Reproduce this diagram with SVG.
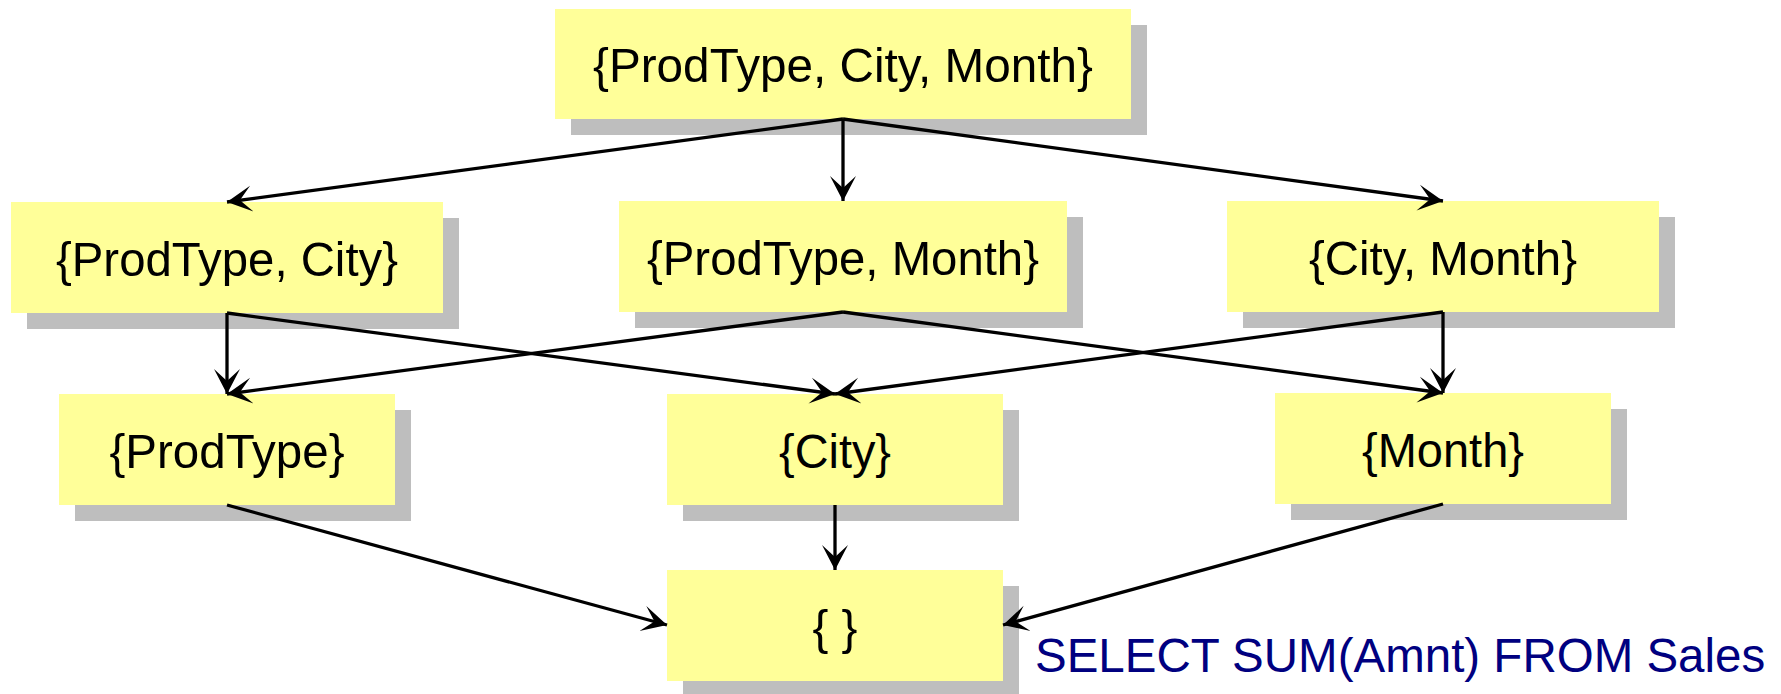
<svg xmlns="http://www.w3.org/2000/svg" width="1781" height="694" viewBox="0 0 1781 694">
<style>
.shadow{fill:#BEBEBE}
.box{fill:#FFFF99}
.lbl{font-family:"Liberation Sans",Arial,sans-serif;font-size:49px;fill:#000;text-anchor:middle}
.sql{font-family:"Liberation Sans",Arial,sans-serif;font-size:47.5px;fill:#000080}
.edge{stroke:#000;stroke-width:3.3;fill:none;marker-end:url(#arr)}
</style>
<defs>
<marker id="arr" markerUnits="userSpaceOnUse" markerWidth="26" markerHeight="28" viewBox="0 0 26 28" refX="25" refY="14" orient="auto">
<path d="M0,1 L25,14 L0,27 L12,14 Z" fill="#000"/>
</marker>
</defs>
<rect width="1781" height="694" fill="#fff"/>
<g id="n-all">
<rect class="shadow" x="571" y="25" width="576" height="110"/>
<rect class="box" x="555" y="9" width="576" height="110"/>
<text class="lbl" x="843" y="82" textLength="500" lengthAdjust="spacingAndGlyphs">{ProdType, City, Month}</text>
</g>
<g id="n-pt-city">
<rect class="shadow" x="27" y="218" width="432" height="111"/>
<rect class="box" x="11" y="202" width="432" height="111"/>
<text class="lbl" x="227" y="276" textLength="342" lengthAdjust="spacingAndGlyphs">{ProdType, City}</text>
</g>
<g id="n-pt-month">
<rect class="shadow" x="635" y="217" width="448" height="111"/>
<rect class="box" x="619" y="201" width="448" height="111"/>
<text class="lbl" x="843" y="275" textLength="392" lengthAdjust="spacingAndGlyphs">{ProdType, Month}</text>
</g>
<g id="n-city-month">
<rect class="shadow" x="1243" y="217" width="432" height="111"/>
<rect class="box" x="1227" y="201" width="432" height="111"/>
<text class="lbl" x="1443" y="275" textLength="268" lengthAdjust="spacingAndGlyphs">{City, Month}</text>
</g>
<g id="n-pt">
<rect class="shadow" x="75" y="410" width="336" height="111"/>
<rect class="box" x="59" y="394" width="336" height="111"/>
<text class="lbl" x="227" y="468" textLength="235" lengthAdjust="spacingAndGlyphs">{ProdType}</text>
</g>
<g id="n-city">
<rect class="shadow" x="683" y="410" width="336" height="111"/>
<rect class="box" x="667" y="394" width="336" height="111"/>
<text class="lbl" x="835" y="468" textLength="112" lengthAdjust="spacingAndGlyphs">{City}</text>
</g>
<g id="n-month">
<rect class="shadow" x="1291" y="409" width="336" height="111"/>
<rect class="box" x="1275" y="393" width="336" height="111"/>
<text class="lbl" x="1443" y="467" textLength="162" lengthAdjust="spacingAndGlyphs">{Month}</text>
</g>
<g id="n-empty">
<rect class="shadow" x="683" y="586" width="336" height="111"/>
<rect class="box" x="667" y="570" width="336" height="111"/>
<text class="lbl" x="835" y="644" textLength="45" lengthAdjust="spacingAndGlyphs">{ }</text>
</g>
<g id="connectors">
<line class="edge" x1="843" y1="119" x2="227" y2="202"/>
<line class="edge" x1="843" y1="119" x2="843" y2="201"/>
<line class="edge" x1="843" y1="119" x2="1443" y2="201"/>
<line class="edge" x1="227" y1="313" x2="227" y2="394"/>
<line class="edge" x1="227" y1="313" x2="835" y2="394"/>
<line class="edge" x1="843" y1="312" x2="227" y2="394"/>
<line class="edge" x1="843" y1="312" x2="1443" y2="393"/>
<line class="edge" x1="1443" y1="312" x2="835" y2="394"/>
<line class="edge" x1="1443" y1="312" x2="1443" y2="393"/>
<line class="edge" x1="227" y1="505" x2="667" y2="625"/>
<line class="edge" x1="835" y1="505" x2="835" y2="570"/>
<line class="edge" x1="1443" y1="504" x2="1003" y2="625"/>
</g>
<text class="sql" x="1035" y="672">SELECT SUM(Amnt) FROM Sales</text>
</svg>
